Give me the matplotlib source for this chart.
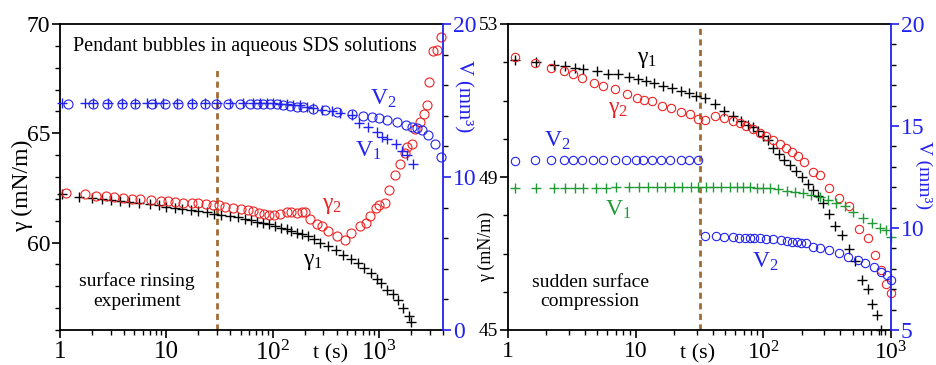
import matplotlib
matplotlib.use('Agg')
import matplotlib.pyplot as plt
from matplotlib.ticker import FixedLocator, MultipleLocator, LogLocator, NullFormatter

plt.rcParams['font.family'] = ['Liberation Serif', 'DejaVu Serif']
plt.rcParams['mathtext.fontset'] = 'custom'
plt.rcParams['mathtext.rm'] = 'Liberation Serif'
plt.rcParams['mathtext.it'] = 'Liberation Serif:italic'
plt.rcParams['mathtext.bf'] = 'Liberation Serif:bold'

# ---- left panel: surface rinsing experiment ----
t_g1_a = [1.05, 1.5, 2, 2.5, 3, 3.7, 4.5, 5.5, 7, 8.5, 10, 12, 14, 17, 20, 24, 28, 33, 40, 47,
          55, 63, 72, 82, 93, 105, 120, 135, 150, 170, 190, 215, 245, 280, 330, 390, 460, 540, 630, 730,
          850, 950, 1050, 1200, 1350, 1500, 1700, 1900, 2000]
g1_a = [62.2, 62.1, 62.05, 62.0, 61.95, 61.9, 61.85, 61.8, 61.75, 61.7, 61.65, 61.6, 61.55, 61.5, 61.45,
        61.4, 61.33, 61.28, 61.2, 61.15, 61.08, 61.02, 60.95, 60.9, 60.83, 60.75, 60.68, 60.6, 60.53, 60.45,
        60.37, 60.28, 60.15, 60.0, 59.85, 59.65, 59.45, 59.25, 59.05, 58.85, 58.6, 58.35, 58.15, 57.85,
        57.65, 57.35, 57.0, 56.65, 56.35]

t_g2_a = [1.15, 1.7, 2.2, 2.7, 3.2, 3.9, 4.8, 5.7, 7.2, 9.0, 10.4, 12, 14.4, 17.3, 20, 23.5, 27.5, 31, 36, 42,
          50, 58, 65, 74, 83, 92, 104, 118, 135, 150, 168, 188, 200, 225, 260, 290, 335, 400, 480, 550,
          660, 750, 830, 930, 1010, 1130, 1250, 1400, 1560, 1750, 1840, 2030, 2190, 2420, 2650, 2850, 2980,
          3250, 3550, 3870]
g2_a = [62.25, 62.22, 62.15, 62.12, 62.1, 62.05, 62.0, 61.98, 61.95, 61.9, 61.88, 61.85, 61.83, 61.8, 61.8,
        61.75, 61.72, 61.7, 61.65, 61.58, 61.55, 61.5, 61.45, 61.35, 61.3, 61.28, 61.25, 61.3, 61.38, 61.38,
        61.35, 61.4, 61.38, 61.1, 60.85, 60.75, 60.55, 60.3, 60.1, 60.45, 60.75, 60.9, 61.2, 61.6, 61.7,
        61.8, 62.4, 63.1, 63.6, 64.1, 64.35, 64.5, 65.2, 65.5, 65.9, 66.3, 67.35, 68.75, 68.8, 69.4]

t_v1_a = [1.04, 1.72, 2.06, 2.85, 3.86, 5.07, 6.53, 7.82, 9.37, 12.5, 17.3, 23.1, 29.7, 39.7, 53, 65.8, 76,
          87.9, 101, 117, 135, 156, 181, 209, 241, 289, 359, 430, 553, 650, 790, 951, 1060, 1200, 1430,
          1650, 1820, 2090]
v1_a = [14.85] * 19 + [14.8, 14.75, 14.72, 14.68, 14.6, 14.5, 14.4, 14.3, 14.2, 14.04, 13.54, 13.28, 12.95,
                       12.62, 12.51, 12.18, 11.7, 11.42, 10.87]

t_v2_a = [1.18, 2.06, 2.75, 3.8, 5.07, 7.3, 9.7, 13.0, 17.3, 23.1, 29.3, 38.4, 49.4, 61.3, 70.8, 81.6, 94.4,
          109, 126, 145, 168, 194, 241, 310, 400, 553, 711, 853, 1007, 1200, 1470, 1790, 2030, 2260, 2520,
          2920, 3370, 3870]
v2_a = [14.78, 14.8, 14.8, 14.8, 14.8, 14.8, 14.8, 14.8, 14.8, 14.8, 14.8, 14.8, 14.8, 14.8, 14.8, 14.8, 14.8,
        14.75, 14.72, 14.65, 14.6, 14.55, 14.45, 14.35, 14.25, 14.1, 14.0, 13.93, 13.88, 13.72, 13.6, 13.4,
        13.3, 13.2, 13.05, 12.75, 12.15, 11.3]

# ---- right panel: sudden surface compression ----
t_g1_b = [1.13, 1.65, 2.28, 2.78, 3.33, 3.86, 4.97, 6.06, 7.25, 8.85, 10.4, 12.1, 14.0, 16.5, 19.4, 22.8,
          26.1, 29.8, 34.7, 41.5, 48.8, 57.6, 67, 75.5, 82.6, 90.5, 99, 108, 118, 132, 146, 163, 181, 201,
          223, 244, 267, 292, 328, 366, 412, 465, 527, 594, 657, 711, 779, 836]
g1_b = [52.06, 52.0, 51.93, 51.9, 51.85, 51.82, 51.76, 51.7, 51.7, 51.62, 51.56, 51.5, 51.45, 51.38, 51.32,
        51.24, 51.2, 51.12, 51.06, 50.9, 50.73, 50.6, 50.47, 50.36, 50.3, 50.2, 50.07, 49.96, 49.77, 49.6,
        49.44, 49.31, 49.16, 49.0, 48.83, 48.65, 48.5, 48.33, 48.02, 47.72, 47.48, 47.13, 46.8, 46.32,
        46.06, 45.68, 45.38, 45.0]

t_g2_b = [1.13, 1.62, 2.18, 2.73, 3.23, 3.82, 4.68, 5.54, 6.93, 8.53, 10.2, 11.7, 13.4, 16.1, 18.8, 22.8,
          26.7, 30.6, 34.7, 42.2, 49.6, 57.6, 65.8, 73.4, 83.7, 93.5, 105, 120, 134, 150, 168, 186, 210,
          244, 279, 328, 390, 465, 560, 657, 755, 836, 918, 1000]
g2_b = [52.13, 51.98, 51.85, 51.76, 51.69, 51.58, 51.47, 51.37, 51.3, 51.17, 51.06, 51.01, 50.99, 50.86,
        50.8, 50.7, 50.64, 50.51, 50.49, 50.6, 50.54, 50.47, 50.4, 50.34, 50.25, 50.16, 50.07, 49.96, 49.87,
        49.77, 49.66, 49.55, 49.4, 49.14, 49.05, 48.72, 48.46, 48.24, 47.65, 47.41, 46.96, 46.58, 46.2, 45.97]

t_v1_b = [1.13, 1.67, 2.28, 2.8, 3.33, 3.86, 4.9, 5.87, 7.06, 8.8, 10.7, 12.5, 14.6, 17.0, 19.8, 23.1, 26.9,
          30.6, 35.4, 40.6, 46.9, 54.5, 61.7, 69.7, 78.7, 89, 100, 113, 131, 152, 177, 203, 237, 276, 321,
          373, 434, 505, 607, 705, 820, 915, 1000]
v1_b = [11.95, 11.95, 11.95, 11.96, 11.97, 11.97, 11.98, 11.98, 11.99, 12.0] + [12.0] * 15 + \
       [11.98, 11.97, 11.94, 11.9, 11.83, 11.78, 11.73, 11.62, 11.5, 11.37, 11.24, 11.08, 10.8, 10.47,
        10.26, 9.98, 9.9, 9.58]

t_v2_b_before = [1.13, 1.62, 2.18, 2.73, 3.23, 3.82, 4.63, 5.54, 6.84, 8.47, 10.1, 11.5, 13.5, 15.9, 18.6,
                 22.8, 26.1, 30.6]
v2_b_before = [13.3, 13.32, 13.33, 13.33, 13.33, 13.33, 13.33, 13.33, 13.33, 13.35, 13.35, 13.35, 13.35,
               13.35, 13.35, 13.35, 13.35, 13.35]
t_v2_b_after = [34.7, 42.7, 49.6, 57.6, 65, 72.4, 78.7, 85, 93.5, 105, 120, 138, 153, 168, 183, 197, 216,
                246, 279, 328, 390, 460, 550, 630, 730, 836, 929, 1000]
v2_b_after = [9.61, 9.61, 9.58, 9.54, 9.53, 9.53, 9.51, 9.49, 9.49, 9.44, 9.44, 9.41, 9.38, 9.33, 9.3, 9.28,
              9.25, 9.08, 9.0, 8.92, 8.79, 8.59, 8.43, 8.27, 8.1, 7.86, 7.7, 7.45]

t_switch_a = 30
t_switch_b = 32

RED = '#ee2222'
BLUE = '#2222ee'
GREEN = '#1f9a35'
BROWN = '#a26b33'

W, H = 936, 365
fig = plt.figure(figsize=(W / 100, H / 100), dpi=100)


def px(x, y):
    return x / W, 1 - y / H


ax1 = fig.add_axes([60 / W, 1 - 330 / H, 383 / W, 306 / H])
ax2 = fig.add_axes([508 / W, 1 - 330 / H, 383 / W, 306 / H])


def style_axes(ax, ax_v, xmax, tick_fs, ytick_fs, vtick_fs):
    ax.set_xscale('log')
    ax.set_xlim(1, xmax)
    ax.xaxis.set_major_locator(FixedLocator([1, 10, 100, 1000]))
    ax.set_xticklabels(['1', '10', r'$10^2$', r'$10^3$'])
    ax.xaxis.set_minor_locator(LogLocator(base=10, subs=range(2, 10), numticks=20))
    ax.xaxis.set_minor_formatter(NullFormatter())
    ax.yaxis.set_minor_locator(MultipleLocator(1))
    for a in (ax, ax_v):
        a.tick_params(which='major', direction='out', length=6, width=1.2)
        a.tick_params(which='minor', direction='out', length=3.5, width=1.0)
    ax.tick_params(axis='x', labelsize=tick_fs, pad=2)
    ax.tick_params(axis='y', labelsize=ytick_fs, pad=1)
    ax.spines['right'].set_visible(False)
    for s in ('left', 'top', 'bottom'):
        ax.spines[s].set_linewidth(1.3)
    for s in ('left', 'top', 'bottom'):
        ax_v.spines[s].set_visible(False)
    ax_v.spines['right'].set_color(BLUE)
    ax_v.spines['right'].set_linewidth(1.3)
    ax_v.tick_params(axis='y', colors=BLUE, labelsize=vtick_fs, pad=1)


# left panel
ax1v = ax1.twinx()
ax1.set_ylim(56, 70)
ax1.set_yticks([60, 65, 70])
ax1v.set_ylim(0, 20)
ax1v.set_yticks([0, 10, 20])
ax1v.yaxis.set_minor_locator(MultipleLocator(2))
style_axes(ax1, ax1v, 4000, 18, 17, 17)

ax1.axvline(t_switch_a, ymin=0, ymax=0.86, color=BROWN, lw=2, ls=(0, (2.2, 1.6)))
ax1.plot(t_g1_a, g1_a, '+', color='black', ms=7.5, mew=1.0, clip_on=False)
ax1.plot(t_g2_a, g2_a, 'o', mfc='none', mec=RED, ms=6.5, mew=0.8, clip_on=False)
ax1v.plot(t_v1_a, v1_a, '+', color=BLUE, ms=7.5, mew=1.0, clip_on=False)
ax1v.plot(t_v2_a, v2_a, 'o', mfc='none', mec=BLUE, ms=6.5, mew=0.8, clip_on=False)

# right panel
ax2v = ax2.twinx()
ax2.set_ylim(45, 53)
ax2.set_yticks([45, 49, 53])
ax2v.set_ylim(5, 20)
ax2v.set_yticks([5, 10, 15, 20])
ax2v.yaxis.set_minor_locator(MultipleLocator(1))
style_axes(ax2, ax2v, 1000, 17, 14, 17)

ax2.axvline(t_switch_b, color=BROWN, lw=2, ls=(0, (2.2, 1.6)))
ax2.plot(t_g1_b, g1_b, '+', color='black', ms=6.5, mew=1.0, clip_on=False)
ax2.plot(t_g2_b, g2_b, 'o', mfc='none', mec=RED, ms=6, mew=0.8, clip_on=False)
ax2v.plot(t_v1_b, v1_b, '+', color=GREEN, ms=6.5, mew=1.0, clip_on=False)
ax2v.plot(t_v2_b_before, v2_b_before, 'o', mfc='none', mec=BLUE, ms=6, mew=0.8, clip_on=False)
ax2v.plot(t_v2_b_after, v2_b_after, 'o', mfc='none', mec=BLUE, ms=6, mew=0.8, clip_on=False)

# axis labels
fig.text(*px(22, 186), 'γ (mN/m)', rotation=90, ha='center', va='center', fontsize=17)
fig.text(*px(463, 96), 'V (mm³)', rotation=270, ha='center', va='center', fontsize=15, color=BLUE)
fig.text(*px(331, 354), 't (s)', ha='center', va='center', fontsize=16)
fig.text(*px(486, 247), 'γ (mN/m)', rotation=90, ha='center', va='center', fontsize=13)
fig.text(*px(924, 175), 'V (mm³)', rotation=270, ha='center', va='center', fontsize=14, color=BLUE)
fig.text(*px(698, 354), 't (s)', ha='center', va='center', fontsize=16)

# annotations
fig.text(*px(245, 46), 'Pendant bubbles in aqueous SDS solutions', ha='center', va='center', fontsize=14.5)
fig.text(*px(383, 99), r'V$_2$', ha='center', va='center', fontsize=17, color=BLUE)
fig.text(*px(368, 151), r'V$_1$', ha='center', va='center', fontsize=17, color=BLUE)
fig.text(*px(332, 205), r'$\mathrm{\gamma}_2$', ha='center', va='center', fontsize=17, color=RED)
fig.text(*px(313, 261), r'$\mathrm{\gamma}_1$', ha='center', va='center', fontsize=17, color='black')
fig.text(*px(137, 291), 'surface rinsing\nexperiment', ha='center', va='center', fontsize=14,
         linespacing=1.2)

fig.text(*px(647, 59), r'$\mathrm{\gamma}_1$', ha='center', va='center', fontsize=17, color='black')
fig.text(*px(618, 110), r'$\mathrm{\gamma}_2$', ha='center', va='center', fontsize=17, color=RED)
fig.text(*px(557, 141), r'V$_2$', ha='center', va='center', fontsize=17, color=BLUE)
fig.text(*px(618, 210), r'V$_1$', ha='center', va='center', fontsize=17, color=GREEN)
fig.text(*px(765, 262), r'V$_2$', ha='center', va='center', fontsize=17, color=BLUE)
fig.text(*px(590, 292), 'sudden surface\ncompression', ha='center', va='center', fontsize=14,
         linespacing=1.2)

fig.savefig('out.png', dpi=100)
